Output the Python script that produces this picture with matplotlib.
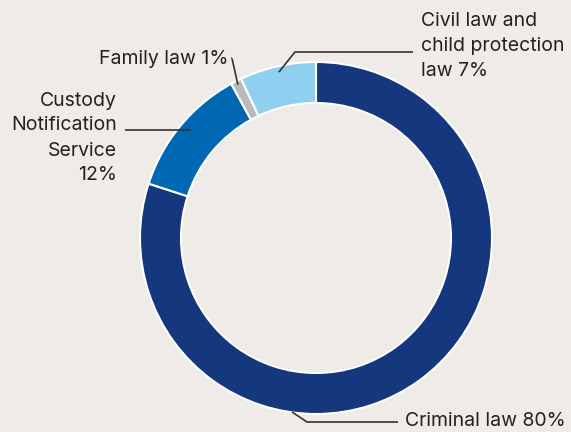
import numpy as np
import matplotlib.pyplot as plt

plt.rcParams['font.family'] = ['Inter', 'DejaVu Sans']

# share of matters by practice area
areas = ['Criminal law', 'Custody Notification Service', 'Family law', 'Civil law and child protection law']
shares = [80, 12, 1, 7]
colors = ['#14377d', '#0068b3', '#b9babb', '#8fd0f0']

W, H = 571, 432
bg = '#eeebe9'
ink = '#222222'

fig = plt.figure(figsize=(W / 100, H / 100), dpi=100, facecolor=bg)
ax = fig.add_axes([0, 0, 1, 1])

cx, cy, R = 316, H - 238, 176
wedges, _ = ax.pie(shares, colors=colors, startangle=90, counterclock=False,
                   center=(cx, cy), radius=R, frame=True,
                   wedgeprops=dict(width=41, edgecolor='white', linewidth=1.5))
ax.set_xlim(0, W)
ax.set_ylim(0, H)
ax.set_aspect('equal')
ax.axis('off')


def yy(y):
    return H - y


def anchor(w, r=R - 6, frac=0.5):
    ang = np.deg2rad(w.theta1 + (w.theta2 - w.theta1) * frac)
    return cx + r * np.cos(ang), cy + r * np.sin(ang)


def leader(pts):
    xs = [p[0] for p in pts]
    ys = [p[1] for p in pts]
    ax.plot(xs, ys, color='#333333', lw=1.2, solid_capstyle='butt')


fs = 14

# criminal law
ax.text(405, yy(421), 'Criminal law 80%', fontsize=fs, color=ink, ha='left', va='center')
leader([(292, yy(412)), (307, yy(422)), (398, yy(422))])

# custody notification service
ax.text(117, yy(138), 'Custody\nNotification\nService\n12%', fontsize=fs, color=ink,
        ha='right', va='center', multialignment='right', linespacing=1.5)
ax_, ay_ = anchor(wedges[1])
leader([(125, ay_), (ax_ + 6, ay_)])

# family law
ax.text(228, yy(59), 'Family law 1%', fontsize=fs, color=ink, ha='right', va='center')
fx, fy = anchor(wedges[2], r=R - 4)
leader([(232, yy(58)), (fx - 6, yy(58)), (fx, fy)])

# civil law and child protection
ax.text(421, yy(46), 'Civil law and\nchild protection\nlaw 7%', fontsize=fs, color=ink,
        ha='left', va='center', linespacing=1.5)
vx, vy = anchor(wedges[3])
leader([(413, yy(52)), (vx + 16, yy(52)), (vx, vy)])

fig.savefig('out.png', dpi=100, facecolor=bg)
